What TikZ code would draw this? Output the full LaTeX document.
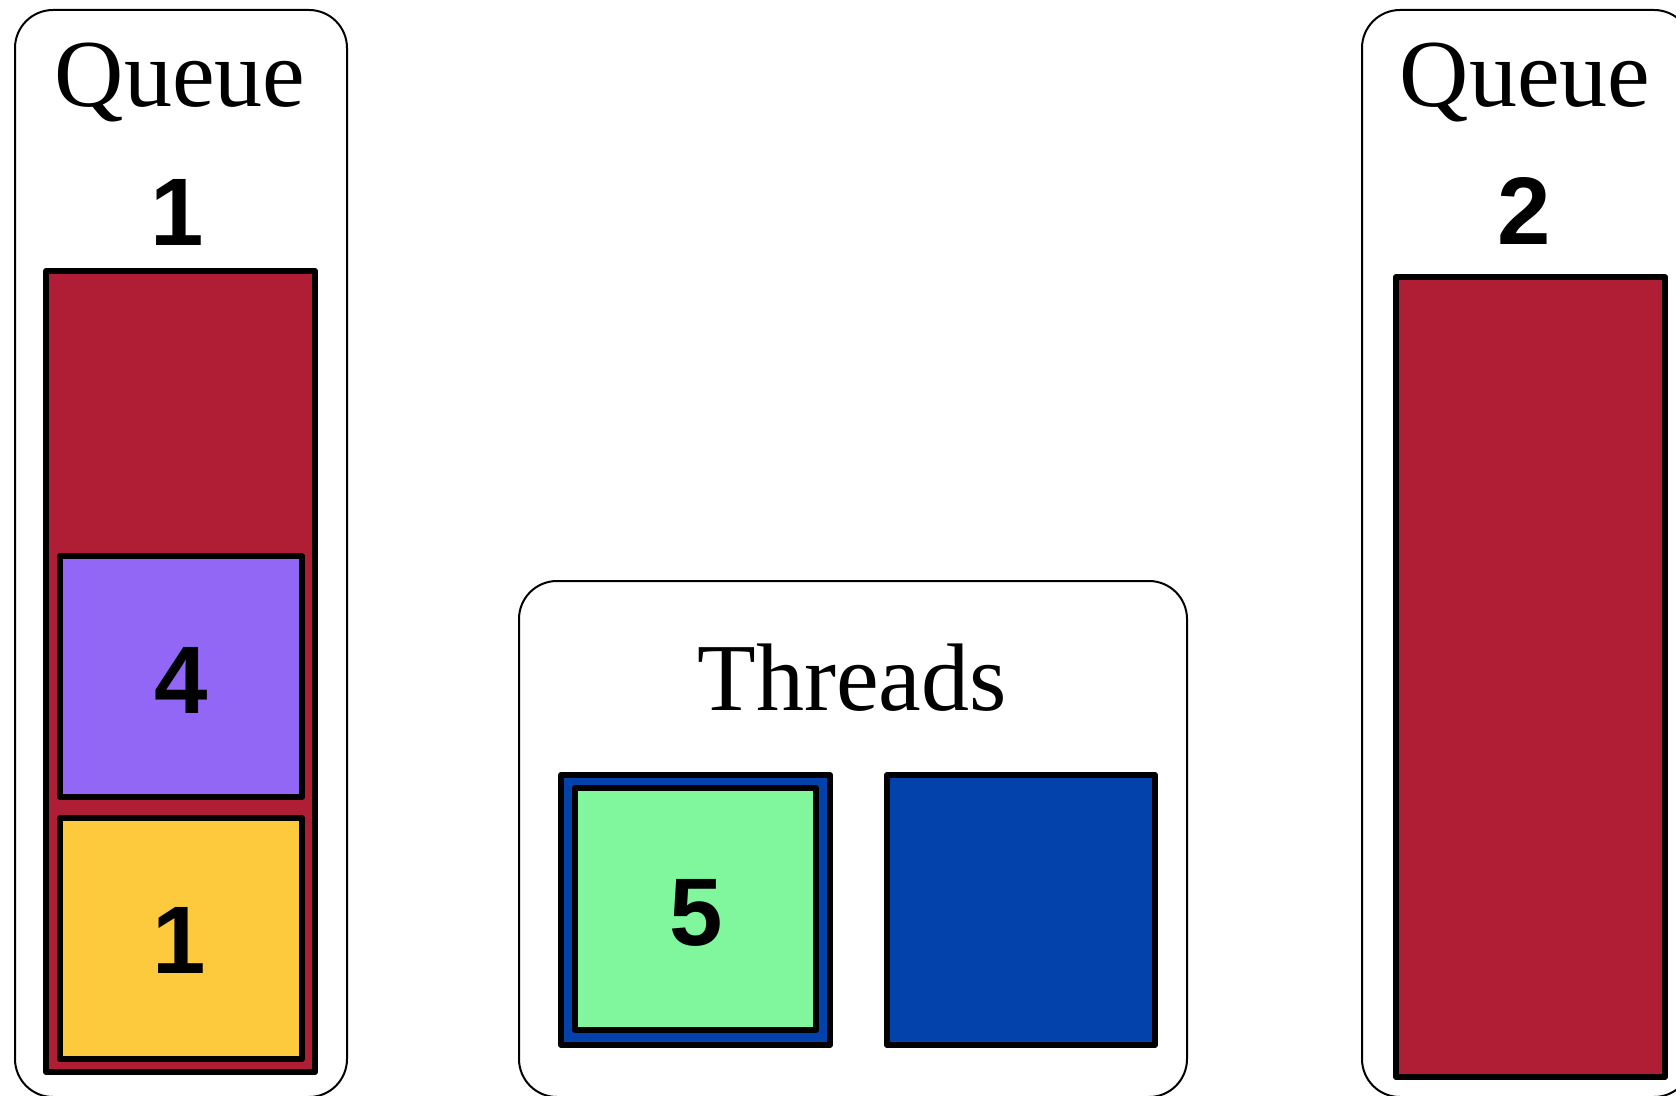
\documentclass[tikz,border=0pt]{standalone}
\usepackage{fontspec}
\setmainfont{Liberation Serif}
\newfontfamily\numfont{Liberation Sans}
\usepackage{xcolor}

\definecolor{queuered}{HTML}{B01E36}
\definecolor{taskpurple}{HTML}{9267F5}
\definecolor{taskyellow}{HTML}{FDC93D}
\definecolor{taskgreen}{HTML}{80F69D}
\definecolor{threadblue}{HTML}{0342AA}

\tikzset{
  panel/.style={draw, line width=1pt, rounded corners=19pt},
  slot/.style={draw, line width=3pt, line join=round},
  title/.style={font=\fontsize{48}{48}\selectfont, anchor=base, inner sep=0pt},
  num/.style={font=\numfont\bfseries\fontsize{48}{48}\selectfont, anchor=base, inner sep=0pt}
}

\begin{document}
\begin{tikzpicture}[x=0.5pt,y=-0.5pt]
        \useasboundingbox (0,0) rectangle (1676,1096);

        % first queue
        \draw[panel] (15,10) rectangle (347,1097);
        \node[title] (qonetitle) at (180,107) {Queue};
        \node[num] (qonenum) at (177,246) {1};
        \draw[slot, fill=queuered] (46,271) rectangle (315,1072);
        \draw[slot, fill=taskpurple] (60,556) rectangle (302,797);
        \node[num] (taskfour) at (181,713) {4};
        \draw[slot, fill=taskyellow] (60,818) rectangle (302,1059);
        \node[num] (taskone) at (179,973) {1};

        % thread pool
        \draw[panel] (519,581) rectangle (1187,1097);
        \node[title] (threadstitle) at (852,710) {Threads};
        \draw[slot, fill=threadblue] (561,775) rectangle (830,1045);
        \draw[slot, fill=taskgreen] (575,788) rectangle (816,1030);
        \node[num] (taskfive) at (696,945) {5};
        \draw[slot, fill=threadblue] (887,775) rectangle (1155,1045);

        % second queue
        \draw[panel] (1362,10) rectangle (1692,1097);
        \node[title] (qtwotitle) at (1525,107) {Queue};
        \node[num] (qtwonum) at (1524,245) {2};
        \draw[slot, fill=queuered] (1396,277) rectangle (1665,1077);
    \end{tikzpicture}
\end{document}
